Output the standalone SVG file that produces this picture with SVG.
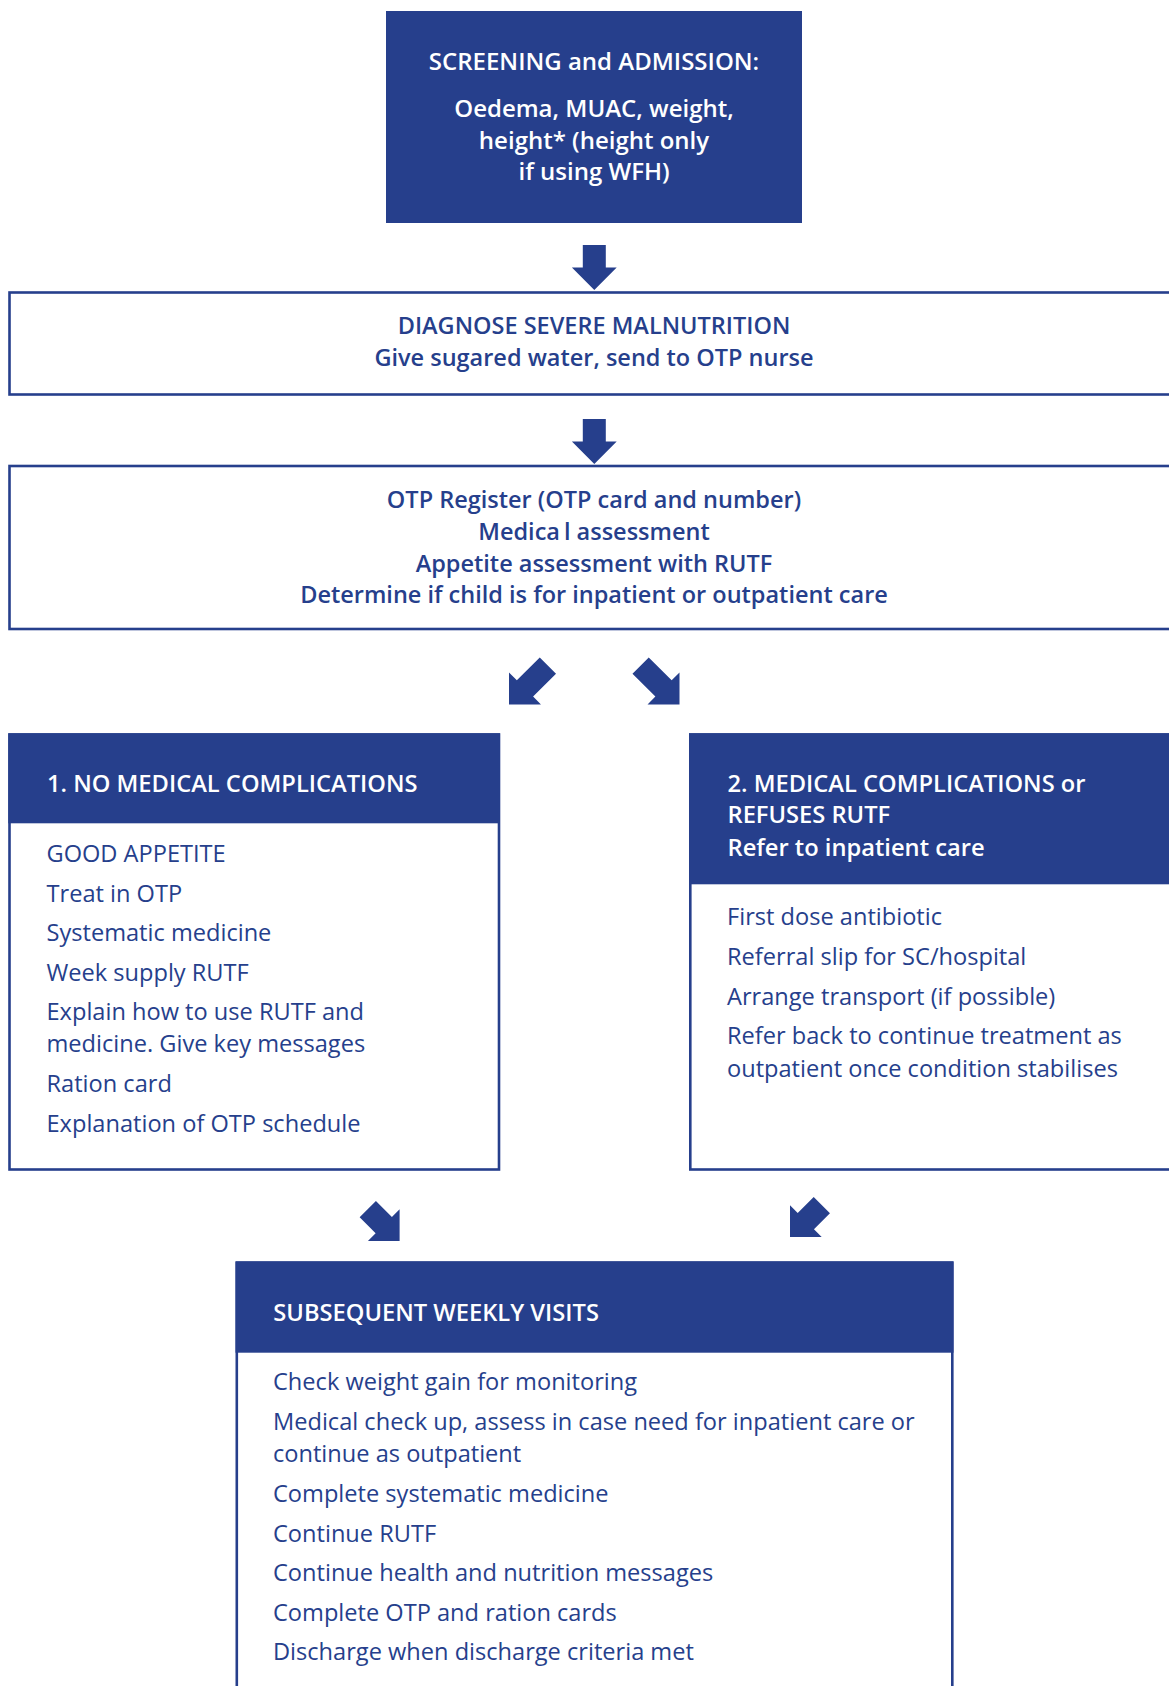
<svg xmlns="http://www.w3.org/2000/svg" width="1169" height="1686" viewBox="0 0 1169 1686">
<style>
  .fill { fill: #263f8c; }
  .frame { fill: #ffffff; stroke: #263f8c; stroke-width: 2.6; }
  .t { font-family: "Open Sans", "Noto Sans", "Liberation Sans", sans-serif; font-size: 23.5px; }
  .sb { font-weight: 600; }
  .top { font-size: 24px; }
  .hd { font-size: 23.7px; }
  .reg { font-weight: 400; font-size: 23.6px; }
  .w { fill: #ffffff; }
  .b { fill: #263f8c; }
  .mid { text-anchor: middle; }
</style>
<defs>
  <polygon id="arrowS" points="-11.5,-45 11.5,-45 11.5,-22.4 22.4,-22.4 0,0 -22.4,-22.4 -11.5,-22.4"/>
  <polygon id="arrowL" points="-11.5,-55 11.5,-55 11.5,-22.6 22.6,-22.6 0,0 -22.6,-22.6 -11.5,-22.6"/>
</defs>
<rect width="1169" height="1686" fill="#ffffff"/>

<g id="screening">
  <rect class="fill" x="386" y="11" width="416" height="212"/>
  <text class="t sb top w mid" x="594" y="70">SCREENING and ADMISSION:</text>
  <text class="t sb top w mid" x="594" y="116.5">Oedema, MUAC, weight,</text>
  <text class="t sb top w mid" x="594" y="148.5">height* (height only</text>
  <text class="t sb top w mid" x="594" y="180">if using WFH)</text>
</g>

<g id="diagnose">
  <rect class="frame" x="9.5" y="292.5" width="1175" height="102"/>
  <text class="t sb b mid" x="594" y="334">DIAGNOSE SEVERE MALNUTRITION</text>
  <text class="t sb b mid" x="594" y="366">Give sugared water, send to OTP nurse</text>
</g>

<g id="register">
  <rect class="frame" x="9.5" y="466" width="1175" height="163"/>
  <text class="t sb b mid" x="594" y="508.3">OTP Register (OTP card and number)</text>
  <text class="t sb b mid" x="594" y="540"><tspan>Medica</tspan><tspan dx="4">l assessment</tspan></text>
  <text class="t sb b mid" x="594" y="571.7">Appetite assessment with RUTF</text>
  <text class="t sb b mid" x="594" y="603.3">Determine if child is for inpatient or outpatient care</text>
</g>

<g id="no-complications">
  <rect class="frame" x="9.5" y="734.5" width="489.5" height="435"/>
  <rect class="fill" x="8.3" y="733.3" width="491.7" height="90"/>
  <text class="t sb hd w" x="47" y="791.7">1. NO MEDICAL COMPLICATIONS</text>
  <text class="t reg b" x="46.5" y="862">GOOD APPETITE</text>
  <text class="t reg b" x="46.5" y="901.5">Treat in OTP</text>
  <text class="t reg b" x="46.5" y="941">Systematic medicine</text>
  <text class="t reg b" x="46.5" y="980.5">Week supply RUTF</text>
  <text class="t reg b" x="46.5" y="1020">Explain how to use RUTF and</text>
  <text class="t reg b" x="46.5" y="1052">medicine. Give key messages</text>
  <text class="t reg b" x="46.5" y="1091.5">Ration card</text>
  <text class="t reg b" x="46.5" y="1131.5">Explanation of OTP schedule</text>
</g>

<g id="complications">
  <rect class="frame" x="690.3" y="734.5" width="500" height="435"/>
  <rect class="fill" x="689" y="733.3" width="500" height="151"/>
  <text class="t sb hd w" x="727.5" y="791.7">2. MEDICAL COMPLICATIONS or</text>
  <text class="t sb hd w" x="727.5" y="823.3">REFUSES RUTF</text>
  <text class="t sb hd w" x="727.5" y="855.7">Refer to inpatient care</text>
  <text class="t reg b" x="727" y="925">First dose antibiotic</text>
  <text class="t reg b" x="727" y="965">Referral slip for SC/hospital</text>
  <text class="t reg b" x="727" y="1005">Arrange transport (if possible)</text>
  <text class="t reg b" x="727" y="1044.3">Refer back to continue treatment as</text>
  <text class="t reg b" x="727" y="1076.7">outpatient once condition stabilises</text>
</g>

<g id="weekly-visits">
  <rect class="frame" x="236.8" y="1262.5" width="715.5" height="500"/>
  <rect class="fill" x="235.5" y="1261.7" width="718" height="91"/>
  <text class="t sb hd w" x="273.3" y="1320.7">SUBSEQUENT WEEKLY VISITS</text>
  <text class="t reg b" x="273" y="1390">Check weight gain for monitoring</text>
  <text class="t reg b" x="273" y="1430">Medical check up, assess in case need for inpatient care or</text>
  <text class="t reg b" x="273" y="1462.3">continue as outpatient</text>
  <text class="t reg b" x="273" y="1501.7">Complete systematic medicine</text>
  <text class="t reg b" x="273" y="1541.7">Continue RUTF</text>
  <text class="t reg b" x="273" y="1580.7">Continue health and nutrition messages</text>
  <text class="t reg b" x="273" y="1620.7">Complete OTP and ration cards</text>
  <text class="t reg b" x="273" y="1660">Discharge when discharge criteria met</text>
</g>

<g id="connectors" class="fill">
  <use href="#arrowS" transform="translate(594.3,290)"/>
  <use href="#arrowS" transform="translate(594.3,464)"/>
  <use href="#arrowL" transform="translate(509,704.4) rotate(45)"/>
  <use href="#arrowL" transform="translate(679.5,704.4) rotate(-45)"/>
  <use href="#arrowS" transform="translate(399.6,1241) rotate(-45)"/>
  <use href="#arrowS" transform="translate(790,1237) rotate(45)"/>
</g>
</svg>
